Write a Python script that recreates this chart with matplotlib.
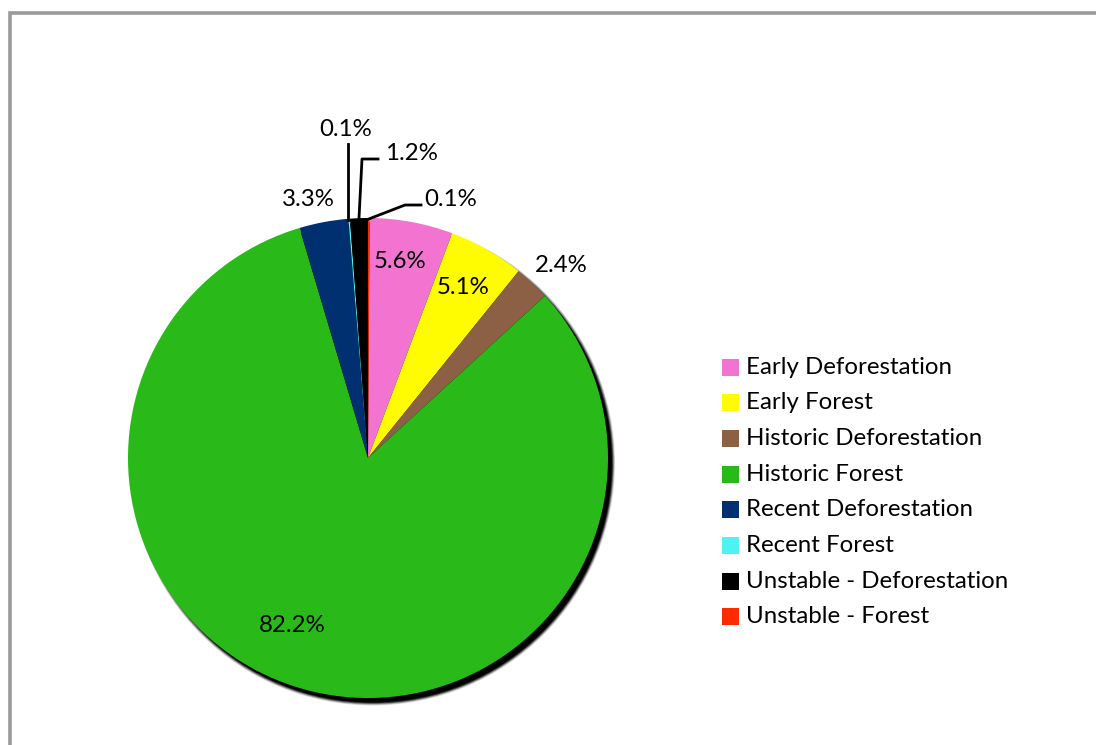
import matplotlib
matplotlib.use("Agg")
import matplotlib.pyplot as plt
from matplotlib.patches import Circle, Rectangle
import numpy as np

plt.rcParams['font.family'] = ['Lato', 'DejaVu Sans']

categories = ["Early Deforestation", "Early Forest", "Historic Deforestation",
              "Historic Forest", "Recent Deforestation", "Recent Forest",
              "Unstable - Deforestation", "Unstable - Forest"]
values = [5.6, 5.1, 2.4, 82.2, 3.3, 0.1, 1.2, 0.1]
colors = ["#F274D0", "#FFFB00", "#8C6045", "#29BA19", "#00306F",
          "#4EF2F2", "#000000", "#FF2A00"]
labels = ["5.6%", "5.1%", "2.4%", "82.2%", "3.3%", "0.1%", "1.2%", "0.1%"]

W, H = 1096, 745
fig = plt.figure(figsize=(W / 100, H / 100), dpi=100)
ax = fig.add_axes([0, 0, 1, 1])


def py(y):
    """Convert a top-down pixel row into the axes' bottom-up coordinate."""
    return H - y


cx, cy, R = 368, py(458), 240

# outer frame
ax.plot([9.5, 9.5, W + 5], [py(H + 5), py(13), py(13)], color="#9a9a9a", lw=2.6,
        solid_joinstyle="miter", zorder=1)

# soft shadow beneath the pie
for i, a in enumerate([0.15, 0.25, 0.4, 0.7, 1.0]):
    ax.add_patch(Circle((cx + 4.5, cy - 5), R + 2.5 - i * 0.8,
                        color="black", alpha=a, lw=0, zorder=2))

# the red slice sits just clockwise of 12 o'clock; the rest follow clockwise
start = 90 - values[-1] / sum(values) * 360
wedges, _ = ax.pie(values, colors=colors, startangle=start, counterclock=False,
                   center=(cx, cy), radius=R, frame=True,
                   wedgeprops=dict(linewidth=0))
for w in wedges:
    w.set_zorder(3)
ax.set_xlim(0, W)
ax.set_ylim(0, H)
ax.set_aspect("equal")
ax.axis("off")

fs = 17.3
# labels placed directly (inside or just outside the pie)
direct = {0: (400, 262), 1: (463, 288), 2: (561, 265), 3: (292, 625), 4: (308, 199)}
for i, (x, y) in direct.items():
    ax.text(x, py(y), labels[i], ha="center", va="center", fontsize=fs, zorder=5)


def edge_point(i):
    w = wedges[i]
    mid = np.deg2rad((w.theta1 + w.theta2) / 2)
    return cx + R * np.cos(mid), cy + R * np.sin(mid)


# Recent Forest: vertical leader
ex, ey = edge_point(5)
ax.plot([ex - 1, ex - 1], [ey - 1, py(144)], color="black", lw=2, zorder=5)
ax.text(346, py(130), labels[5], ha="center", va="center", fontsize=fs, zorder=5)

# Unstable - Deforestation: bent leader
ex, ey = edge_point(6)
ax.plot([ex, 362, 378], [ey - 1, py(159), py(159)], color="black", lw=2, zorder=5)
ax.text(385, py(153), labels[6], ha="left", va="center", fontsize=fs, zorder=5)

# Unstable - Forest: bent leader
ex, ey = edge_point(7)
ax.plot([ex, 405, 421], [ey - 1, py(205), py(205)], color="black", lw=2, zorder=5)
ax.text(424, py(199), labels[7], ha="left", va="center", fontsize=fs, zorder=5)

# legend
lx, ly0, dy, sq = 722, 367, 35.7, 17
for k, (name, c) in enumerate(zip(categories, colors)):
    y = py(ly0 + k * dy)
    ax.add_patch(Rectangle((lx, y - sq / 2), sq, sq, color=c, lw=0, zorder=5))
    ax.text(lx + 24, y, name, ha="left", va="center", fontsize=fs, zorder=5)

fig.savefig("out.png", dpi=100)
